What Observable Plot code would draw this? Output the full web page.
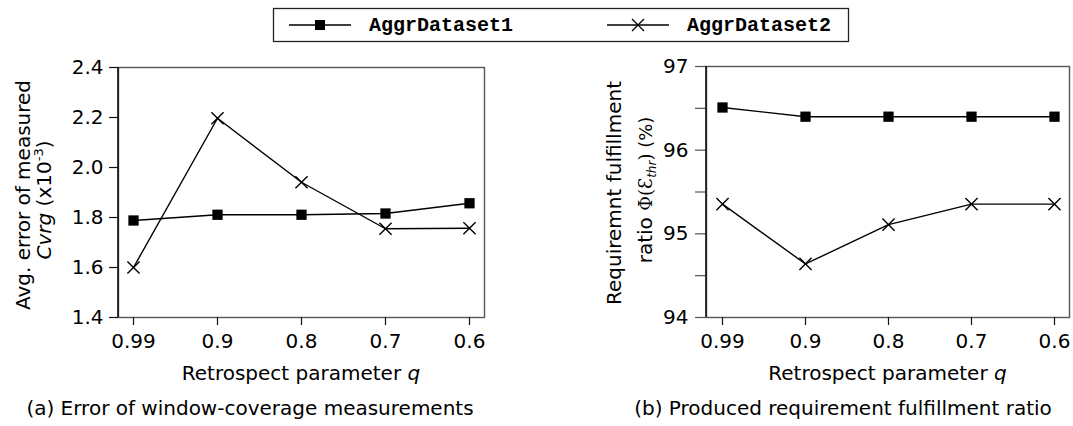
<!DOCTYPE html>
<html><head><meta charset="utf-8">
<script src="https://cdn.jsdelivr.net/npm/d3@7"></script>
<script src="https://cdn.jsdelivr.net/npm/@observablehq/plot@0.6"></script>
<style>
body{margin:0;background:#fff;}
#root{position:relative;width:1073px;height:426px;font-family:"DejaVu Sans",sans-serif;background:#fff;}
#root svg{position:absolute;top:0;}
</style></head><body><div id="root"></div>
<script>
// ---- data ----
const qLabels = ["0.99", "0.9", "0.8", "0.7", "0.6"];
const seriesNames = ["AggrDataset1", "AggrDataset2"];
const coverageD1 = [1.788, 1.811, 1.811, 1.816, 1.857];
const coverageD2 = [1.600, 2.197, 1.941, 1.755, 1.757];
const ratioD1 = [96.51, 96.40, 96.40, 96.40, 96.40];
const ratioD2 = [95.355, 94.64, 95.11, 95.355, 95.355];
const coverageTicks = [1.4, 1.6, 1.8, 2.0, 2.2, 2.4];
const ratioTicks = [94, 94.5, 95, 95.5, 96, 96.5, 97];
const ratioTickLabels = ["94", "", "95", "", "96", "", "97"];

const root = document.getElementById("root");
const FONT = "DejaVu Sans";
const FS = 20;

function rows(values) { return qLabels.map((q, i) => ({q, v: values[i]})); }

function makeChart(o) {
  const d1 = rows(o.v1), d2 = rows(o.v2);
  const svg = Plot.plot({
    width: o.width, height: 426,
    marginLeft: o.ml, marginRight: o.mr, marginTop: o.mt, marginBottom: 109,
    style: {fontFamily: FONT, fontSize: FS + "px", color: "black", background: "transparent", overflow: "visible"},
    x: {type: "point", domain: qLabels, padding: 0.163},
    y: {domain: o.yDomain},
    marks: [
      Plot.frame({stroke: "#555", strokeWidth: 1.4}),
      Plot.axisY({ticks: o.yTicks, tickFormat: o.yFormat, tickSize: o.yTickSize, tickPadding: o.yTickPad, label: null, stroke: o.tickColor, fill: "black", strokeWidth: 1.2}),
      Plot.axisX({tickSize: 8, tickPadding: 8.5, label: null, stroke: "#111", fill: "black", strokeWidth: 1.2}),
      Plot.line(d1, {x: "q", y: "v", stroke: "black", strokeWidth: 1.4}),
      Plot.line(d2, {x: "q", y: "v", stroke: "black", strokeWidth: 1.4}),
      Plot.dot(d1, {x: "q", y: "v", symbol: "square", fill: "black", stroke: "none", r: 5.8}),
      Plot.dot(d2, {x: "q", y: "v", symbol: "times", stroke: "black", strokeWidth: 1.4, r: 5.6})
    ]
  });
  svg.style.left = o.left + "px";
  const s = d3.select(svg);
  // darker left axis line
  s.append("line").attr("x1", o.ml).attr("x2", o.ml).attr("y1", o.mt).attr("y2", 317)
    .attr("stroke", "#111").attr("stroke-width", 1.6);
  // x label
  const xl = s.append("text").attr("x", o.xLabelX).attr("y", 380).attr("text-anchor", "middle")
    .attr("font-size", FS).attr("fill", "black");
  xl.append("tspan").text("Retrospect parameter ");
  xl.append("tspan").attr("font-style", "italic").text("q");
  // caption
  s.append("text").attr("x", o.capX).attr("y", 415).attr("text-anchor", "middle")
    .attr("font-size", FS).attr("fill", "black").text(o.caption);
  o.yLabel(s);
  root.appendChild(svg);
}

makeChart({
  left: 0, width: 540, ml: 118, mr: 56, mt: 67,
  v1: coverageD1, v2: coverageD2, yDomain: [1.4, 2.4],
  yTicks: coverageTicks, yFormat: d => d.toFixed(1), yTickSize: 9, yTickPad: 6, tickColor: "#111",
  xLabelX: 301, capX: 250,
  caption: "(a) Error of window-coverage measurements",
  yLabel: s => {
    s.append("text").attr("transform", "translate(30,195) rotate(-90)").attr("text-anchor", "middle")
      .attr("font-size", FS).attr("fill", "black").text("Avg. error of measured");
    const t = s.append("text").attr("transform", "translate(51,200) rotate(-90)").attr("text-anchor", "middle")
      .attr("font-size", FS).attr("fill", "black");
    t.append("tspan").attr("font-style", "italic").text("Cvrg");
    t.append("tspan").text(" (x10");
    t.append("tspan").attr("font-size", 13).attr("dy", -8).text("-3");
    t.append("tspan").attr("dy", 8).text(")");
  }
});

makeChart({
  left: 540, width: 533, ml: 166, mr: 4, mt: 66,
  v1: ratioD1, v2: ratioD2, yDomain: [94, 97],
  yTicks: ratioTicks, yFormat: (d) => ratioTickLabels[ratioTicks.indexOf(d)], yTickSize: 11, yTickPad: 7, tickColor: "#555",
  xLabelX: 347.5, capX: 303,
  caption: "(b) Produced requirement fulfillment ratio",
  yLabel: s => {
    s.append("text").attr("transform", "translate(81,193) rotate(-90)").attr("text-anchor", "middle")
      .attr("font-size", FS).attr("fill", "black").text("Requiremnt fulfillment");
    const t = s.append("text").attr("transform", "translate(112,190) rotate(-90)").attr("text-anchor", "middle")
      .attr("font-size", FS).attr("fill", "black");
    t.append("tspan").text("ratio ");
    t.append("tspan").attr("font-family", "DejaVu Serif").attr("font-size", 18).text("Φ(Ɛ");
    t.append("tspan").attr("font-style", "italic").attr("font-size", 12).attr("dy", 4).text("thr");
    t.append("tspan").attr("dy", -4).attr("font-family", "DejaVu Serif").attr("font-size", 18).text(")");
    t.append("tspan").attr("font-size", 18).text(" (%)");
  }
});

// ---- legend ----
const lg = d3.select(root).append("svg").attr("width", 1073).attr("height", 50).style("left", "0px");
lg.append("rect").attr("x", 273.5).attr("y", 8.5).attr("width", 575).attr("height", 33)
  .attr("fill", "white").attr("stroke", "#222").attr("stroke-width", 1.3);
const items = [
  {name: seriesNames[0], x0: 289, sym: "square"},
  {name: seriesNames[1], x0: 607, sym: "times"}
];
const ly = 25;
items.forEach(it => {
  lg.append("line").attr("x1", it.x0).attr("x2", it.x0 + 62).attr("y1", ly).attr("y2", ly)
    .attr("stroke", "black").attr("stroke-width", 1.3);
  const cx = it.x0 + 31;
  if (it.sym === "square") {
    lg.append("rect").attr("x", cx - 5).attr("y", ly - 5).attr("width", 10).attr("height", 10).attr("fill", "black");
  } else {
    lg.append("path").attr("d", `M${cx-6},${ly-6}L${cx+6},${ly+6}M${cx-6},${ly+6}L${cx+6},${ly-6}`)
      .attr("stroke", "black").attr("stroke-width", 1.3);
  }
  lg.append("text").attr("x", it.x0 + 80).attr("y", ly + 6).attr("font-family", "Liberation Mono")
    .attr("font-weight", "bold").attr("font-size", 20).attr("fill", "black").text(it.name);
});
</script>
</body></html>
